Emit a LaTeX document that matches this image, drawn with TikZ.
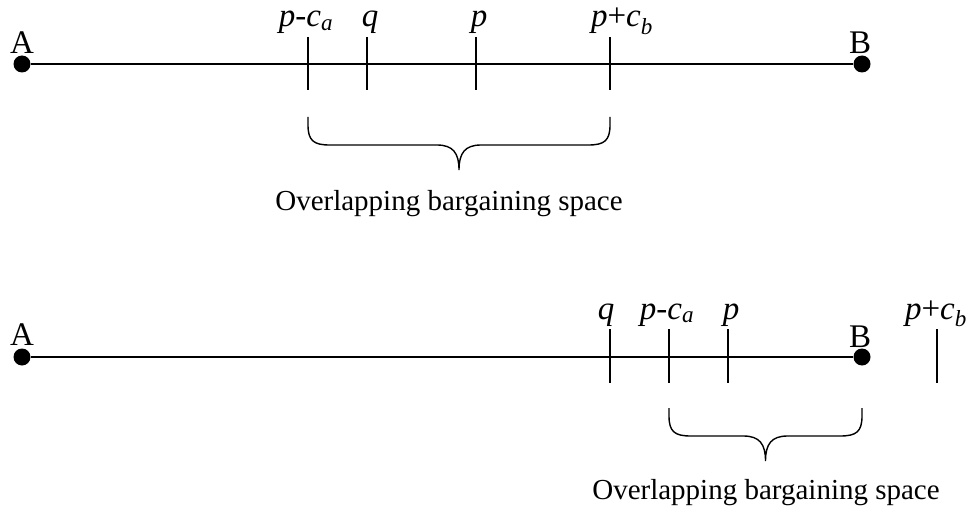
\documentclass[tikz,border=0pt]{standalone}
\usepackage{fontspec}
\setmainfont{Liberation Serif}
\begin{document}
\begin{tikzpicture}[x=1pt,y=-1pt,line width=1.6pt,
  dot/.style={circle,fill,inner sep=0pt,minimum size=17pt},
  lbl/.style={anchor=base,inner sep=0pt,font=\fontsize{29}{34}\selectfont},
  mlbl/.style={lbl,font=\fontsize{33}{38}\selectfont},
  brc/.style={line width=1.4pt}]
\useasboundingbox (0,0) rectangle (979,508);
% first line
\node[dot] (A1) at (22,64) {};
\node[dot] (B1) at (862,64) {};
\draw (A1) -- (B1);
\node[mlbl] (lA1) at (22,54) {A};
\node[mlbl] (lB1) at (860,54) {B};
\foreach \x in {308,367,476,610} \draw (\x,37)--(\x,90);
\node[mlbl] (pca1) at (306,27) {\textit{p-c}\textsubscript{\textit{a}}};
\node[mlbl] (q1) at (370,27) {\textit{q}};
\node[mlbl] (p1) at (479,27) {\textit{p}};
\node[mlbl] (pcb1) at (622,27) {\textit{p}+\textit{c}\textsubscript{\textit{b}}};
\node[lbl] (ovl1) at (449,210) {Overlapping bargaining space};
% second line
\node[dot] (A2) at (22,357) {};
\node[dot] (B2) at (862,357) {};
\draw (A2) -- (B2);
\node[mlbl] (lA2) at (22,345) {A};
\node[mlbl] (lB2) at (860,347) {B};
\foreach \x in {610,669,728,937} \draw (\x,329)--(\x,383);
\node[mlbl] (q2) at (606,319) {\textit{q}};
\node[mlbl] (pca2) at (667,319) {\textit{p-c}\textsubscript{\textit{a}}};
\node[mlbl] (p2) at (731,319) {\textit{p}};
\node[mlbl] (pcb2) at (936,319) {\textit{p}+\textit{c}\textsubscript{\textit{b}}};
\node[lbl] (ovl2) at (766,499) {Overlapping bargaining space};
% braces
\foreach \l/\r/\t in {308/610/117,669/862/408}{
  \pgfmathsetmacro\c{(\l+\r)/2}
  \draw[brc] (\l,\t) -- (\l,\t+8) .. controls (\l,\t+24) and (\l+6,\t+28) .. (\l+22,\t+28)
    -- ({\c-22},\t+28) .. controls ({\c-6},\t+28) and (\c,\t+36) .. (\c,\t+53)
    .. controls (\c,\t+36) and ({\c+6},\t+28) .. ({\c+22},\t+28)
    -- (\r-22,\t+28) .. controls (\r-6,\t+28) and (\r,\t+24) .. (\r,\t+8) -- (\r,\t);
}
\end{tikzpicture}
\end{document}
